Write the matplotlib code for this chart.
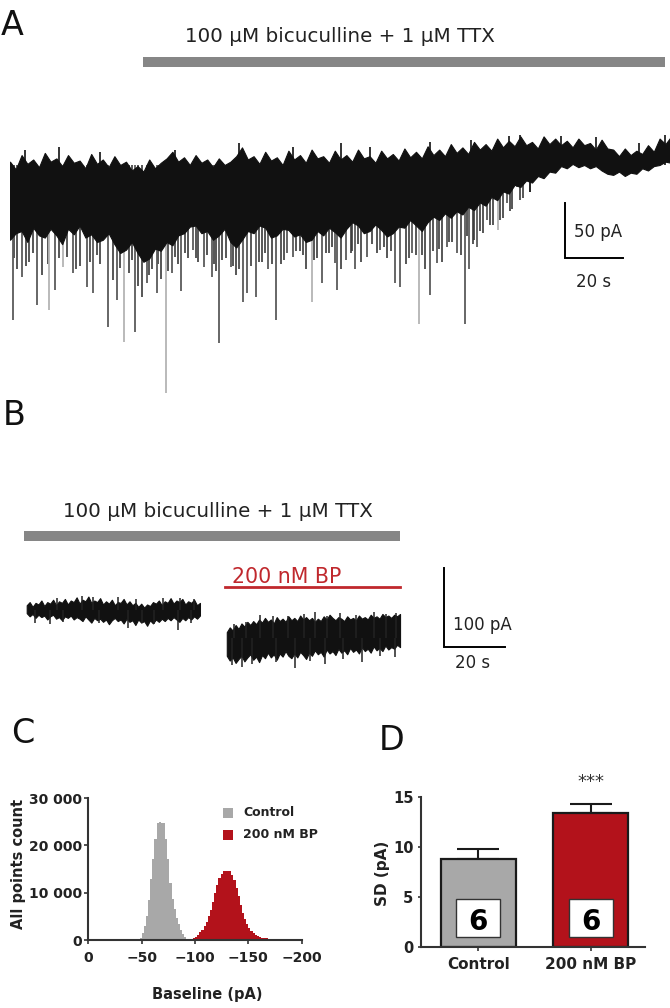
import numpy as np
import matplotlib
matplotlib.use("Agg")
import matplotlib.pyplot as plt
from matplotlib.patches import Rectangle

plt.rcParams['font.family'] = ['DejaVu Sans']

# ---------------- panel A: whole-cell trace (pA vs s)
a_step = 2.0                     # s between envelope samples
a_top = [3, -4, 9, 1, 5, -2, 11, 3, 6, -1, 9, 2, 4, -3, 10, 1, 5, -2, 8, 0,
         3, -5, -1, -6, 5, -3, 2, 6, 12, 3, 7, 0, 9, 2, 5, -2, 6, 0, 3, 8,
         16, 5, 8, 1, 12, 4, 7, 0, 13, 5, 9, 2, 14, 6, 8, 2, 13, 5, 9, 3,
         14, 6, 8, 2, 13, 6, 10, 4, 15, 7, 12, 6, 17, 9, 14, 8, 19, 11, 16, 10,
         21, 14, 19, 13, 24, 16, 22, 17, 26, 18, 21, 15, 26, 19, 24, 18, 22, 16, 24, 18,
         20, 14, 23, 15, 14, 8, 15, 9, 13, 10, 18, 12, 24, 19, 26]
a_core = [-68, -62, -60, -70, -57, -64, -66, -58, -64, -72, -58, -63, -55, -66, -63, -70,
          -68, -62, -72, -80, -77, -70, -80, -88, -85, -76, -78, -70, -73, -64, -62, -56,
          -55, -62, -60, -68, -64, -58, -70, -75, -68, -60, -62, -55, -57, -66, -64, -58,
          -59, -65, -63, -70, -68, -60, -64, -57, -61, -66, -58, -52, -55, -62, -60, -54,
          -59, -65, -62, -56, -57, -50, -55, -60, -52, -47, -50, -44, -48, -42, -45, -38,
          -41, -34, -37, -29, -32, -24, -26, -18, -20, -14, -16, -10, -12, -6, -7, -1,
          -3, 1, -2, 0, -3, -1, -5, -8, -9, -6, -10, -7, -8, -3, -5, -1, 0, 3, 2]
# small upward excursions on the top edge: time (s), peak (pA)
a_up_t = [5.2, 17, 31, 57, 79, 97.6, 114, 124, 145, 159, 172, 176, 190, 202, 217, 226]
a_up_amp = [14, 16, 12, 14, 20, 16, 20, 16, 21, 23, 26, 27, 26, 25, 20, 27]
# large inward events: time (s), peak (pA), shade (0 black, 1 dark grey, 2 light grey)
a_evt_t = [0.9, 4.0, 9.2, 13.4, 15.5, 18.3, 21.6, 26.6, 28.6, 33.8, 36.9, 39.3, 43.1,
           47.2, 50.7, 53.8, 55.9, 59.0, 63.1, 66.9, 69.7, 72.1, 76.2, 80.3, 81.7, 84.8,
           89.0, 91.7, 95.5, 97.6, 104.1, 107.6, 112.1, 112.8, 115.9, 119.0, 123.1, 127.6,
           132.8, 134.5, 138.6, 141.0, 144.8, 147.2, 150.7, 154.1, 156.9, 158.3, 161.0,
           164.5, 168.3, 171.4, 174.8, 179.3]
a_evt_amp = [-141, -102, -127, -132, -114, -93, -98, -111, -116, -147, -123, -161, -152,
             -107, -116, -207, -98, -115, -77, -93, -102, -162, -93, -125, -116, -120,
             -95, -141, -80, -84, -125, -107, -89, -114, -86, -95, -84, -77,
             -107, -111, -80, -145, -118, -89, -75, -80, -145, -95, -75,
             -50, -59, -35, -20, -25]
a_evt_shade = [1, 1, 1, 2, 1, 2, 1, 1, 1, 1, 1, 2, 1,
               1, 1, 2, 1, 1, 1, 1, 1, 1, 1, 1, 1, 1,
               1, 1, 1, 1, 2, 1, 1, 1, 1, 1, 1, 1,
               1, 1, 1, 2, 1, 1, 1, 1, 1, 1, 1,
               1, 2, 1, 1, 0]
# smaller events filling the dark part of the band
a_small_t = [2.5, 6.5, 11, 17, 24, 31, 35.5, 41, 45.5, 49, 52, 58, 61.5, 65, 71, 74.5, 78,
             83, 87, 93.5, 100, 102, 106, 110, 114, 117.5, 121, 125, 130, 136.5, 140, 143,
             146, 149, 152.5, 155.5, 160, 163, 166.5, 170, 173, 177,
             1.5, 5.5, 8, 13, 19.5, 22.8, 27.5, 30, 37.8, 42, 44.3, 48, 51, 54.5, 57, 60.5,
             64, 68, 70.5, 73.2, 77, 79, 85.8, 88, 90.5, 94.5, 98.5, 101, 105, 109, 111,
             118, 120, 126.5, 129, 131.5, 137.5, 142, 148, 151.5, 157.5, 159.5, 162, 165.5,
             169, 172.3, 175.8]
a_small_amp = [-95, -88, -100, -85, -92, -90, -105, -98, -120, -95, -104, -90, -85, -88,
               -96, -85, -100, -92, -88, -90, -78, -95, -85, -80, -95, -80, -88, -72, -85,
               -90, -82, -95, -78, -88, -70, -82, -68, -62, -55, -48, -40, -30,
               -85, -92, -80, -90, -84, -95, -88, -82, -94, -86, -110, -100, -90, -96, -84,
               -80, -85, -82, -90, -86, -92, -95, -88, -80, -90, -86, -78, -82, -86, -80,
               -75, -78, -72, -80, -75, -78, -85, -82, -76, -70, -65, -72, -60, -55, -50,
               -42, -32]

# ---------------- panel B: two trace segments (pA vs s)
b1_start, b1_end = 2.2, 59.0
b1_top = [6, 10, 4, 9, 7, 12, 5, 10, 8, 13, 6, 11, 9, 14, 7, 12, 10, 16, 8, 13,
          11, 17, 9, 12, 10, 15, 7, 11, 8, 13, 6, 10, 9, 14, 7, 11, 6, 9, 4, 8,
          3, 7, 5, 10, 8, 12, 6, 11, 9, 15, 8, 12, 10, 14, 7, 11, 9, 13, 6, 9]
b1_bot = [-4, -8, -5, -10, -6, -9, -7, -12, -8, -6, -11, -9, -13, -8, -10, -7, -12, -9,
          -11, -14, -8, -12, -16, -10, -13, -11, -15, -12, -18, -13, -10, -14, -12, -17,
          -11, -15, -13, -19, -12, -16, -14, -20, -13, -17, -12, -15, -11, -14, -10, -13,
          -9, -12, -15, -10, -13, -9, -12, -8, -11, -7]
b1_evt_t = [5, 9.8, 14, 26, 35.4, 40, 44, 51.8, 56, 12, 20.3, 24, 32, 38, 47, 52.5, 57]
b1_evt_amp = [-16, -18, -15, -16, -23, -17, -18, -25, -17, 15, 18, 16, 17, 14, 15, 15, 14]
b2_start, b2_end = 67.8, 124.6
b2_top = [-28, -22, -26, -19, -24, -17, -21, -15, -19, -14, -18, -12, -16, -10, -15, -12,
          -17, -9, -14, -11, -15, -8, -13, -10, -14, -7, -12, -9, -13, -10, -15, -11, -14,
          -8, -12, -6, -10, -13, -9, -11, -14, -8, -12, -10, -13, -7, -11, -9, -12, -6,
          -10, -8, -11, -5, -9, -7, -10, -6, -8, -5]
b2_bot = [-58, -64, -60, -67, -62, -58, -65, -60, -56, -63, -59, -66, -57, -61, -54, -60,
          -56, -63, -55, -59, -52, -58, -61, -55, -60, -53, -57, -62, -54, -58, -51, -56,
          -53, -59, -50, -55, -52, -57, -49, -54, -51, -56, -48, -53, -50, -55, -47, -52,
          -49, -54, -46, -51, -48, -52, -45, -50, -47, -49, -44, -47]
b2_evt_t = [69.4, 72.7, 76, 84, 90.2, 95, 100, 106, 112, 118, 123,
            70, 74, 78.7, 83, 88, 93, 96.7, 100.5, 105, 110, 116, 120, 123.4]
b2_evt_amp = [-70, -72, -68, -66, -73, -65, -68, -62, -66, -58, -60,
              -18, -15, -6, -8, -7, -5, -2, -8, -4, -6, -3, -5, -4]

# ---------------- panel C: all-points histograms (2 pA bins)
bin_w = 2.0
ctrl_first_edge = -46.0
ctrl_counts = [200, 500, 1500, 2900, 5000, 8500, 12800, 17100, 21300, 24800, 24900, 24800,
               24700, 21300, 17100, 12100, 8600, 6500, 4700, 3400, 2200, 1300, 600, 150]
bp_first_edge = -92.0
bp_counts = [80, 150, 250, 400, 700, 1100, 1600, 2200, 3000, 3900, 5000, 6400, 8000, 9900,
             11600, 13000, 14000, 14500, 14600, 14600, 14500, 13800, 12600, 11000, 9300,
             7500, 5800, 4400, 3400, 2600, 1900, 1400, 1000, 800, 600, 450, 380, 330, 300,
             280, 250, 220, 200, 180, 160, 140, 100]

# ---------------- panel D: baseline SD
groups = ['Control', '200 nM BP']
sd_mean = [8.8, 13.4]
sd_sem = [1.0, 0.95]
n_cells = [6, 6]

grey = '#a8a8a8'
red = '#b3121b'
bp_red = '#c0282d'
bar_grey = '#868686'
trace = '#111111'
shades = ['#111111', '#5a5a5a', '#b4b4b4']

W, H = 670, 1008
fig = plt.figure(figsize=(W / 100, H / 100), dpi=100)


def box(x0, y0, x1, y1):
    # pixel box (top-left origin) -> figure fraction rect
    return [x0 / W, 1 - y1 / H, (x1 - x0) / W, (y1 - y0) / H]


# ---- A
axa = fig.add_axes(box(10, 20, 671.2, 401.5))
axa.set_xlim(0, 228)
axa.set_ylim(-215, 131.8)
axa.axis('off')
ta = np.arange(len(a_top)) * a_step
axa.vlines(a_small_t, 0, a_small_amp, color='#3a3a3a', lw=1.2, zorder=1)
axa.vlines(a_evt_t, 0, a_evt_amp, color=[shades[s] for s in a_evt_shade], lw=1.3, zorder=1)
axa.vlines(a_up_t, 0, a_up_amp, color=trace, lw=1.2, zorder=1)
axa.fill_between(ta, a_core, a_top, color=trace, lw=0.8, zorder=2)
axa.plot([45.9, 225.9], [93.6, 93.6], color=bar_grey, lw=7.2, solid_capstyle='butt')
axa.text(113.8, 111.8, '100 µM bicuculline + 1 µM TTX', fontsize=14.3, color='#222222',
         ha='center', va='baseline')
axa.plot([191.4, 191.4, 211.4], [-34.5, -84.5, -84.5], color='k', lw=1.4,
         solid_joinstyle='miter')
axa.text(194.5, -65.2, '50 pA', fontsize=12, ha='left', va='baseline', color='#222222')
axa.text(201.4, -110.6, '20 s', fontsize=12, ha='center', va='baseline', color='#222222')

# ---- B
axb = fig.add_axes(box(20, 500, 520, 680))
axb.set_xlim(0, 163.93)
axb.set_ylim(-88.6, 139.2)
axb.axis('off')
tb1 = np.linspace(b1_start, b1_end, len(b1_top))
tb2 = np.linspace(b2_start, b2_end, len(b2_top))
axb.vlines(b1_evt_t, 0, b1_evt_amp, color='#222222', lw=1.1)
axb.vlines(b2_evt_t, -35, b2_evt_amp, color='#222222', lw=1.1)
axb.fill_between(tb1, b1_bot, b1_top, color=trace, lw=0.8)
axb.fill_between(tb2, b2_bot, b2_top, color=trace, lw=0.8)
axb.plot([1.3, b2_end], [93.7, 93.7], color=bar_grey, lw=7.2, solid_capstyle='butt')
axb.text(64.9, 117.7, '100 µM bicuculline + 1 µM TTX', fontsize=14.3, color='#222222',
         ha='center', va='baseline')
axb.plot([b2_start - 0.6, b2_end], [29.5, 29.5], color=bp_red, lw=2)
axb.text(87.5, 34.2, '200 nM BP', fontsize=14.8, color=bp_red, ha='center', va='baseline')
axb.plot([139, 139, 159], [53.2, -46.8, -46.8], color='k', lw=1.4, solid_joinstyle='miter')
axb.text(142, -25.3, '100 pA', fontsize=12, ha='left', va='baseline', color='#222222')
axb.text(148.4, -73.4, '20 s', fontsize=12, ha='center', va='baseline', color='#222222')

# ---- C
axc = fig.add_axes(box(88.3, 798, 301.7, 940))
ctrl_edges = ctrl_first_edge - bin_w * np.arange(len(ctrl_counts) + 1)
bp_edges = bp_first_edge - bin_w * np.arange(len(bp_counts) + 1)
axc.stairs(bp_counts[::-1], bp_edges[::-1], fill=True, color=red, lw=0)
axc.stairs(ctrl_counts[::-1], ctrl_edges[::-1], fill=True, color=grey, lw=0)
axc.set_xlim(0, -200)
axc.set_ylim(0, 30000)
axc.set_xticks([0, -50, -100, -150, -200])
axc.set_yticks([0, 10000, 20000, 30000], ['0', '10 000', '20 000', '30 000'])
for s in ['top', 'right']:
    axc.spines[s].set_visible(False)
for s in ['left', 'bottom']:
    axc.spines[s].set_linewidth(1.5)
    axc.spines[s].set_color('#333333')
axc.tick_params(axis='both', length=2.6, width=1.2, color='#333333', labelsize=10,
                labelcolor='#222222')
axc.tick_params(axis='x', pad=5.6)
axc.tick_params(axis='y', pad=2.2)
for lab in axc.get_xticklabels() + axc.get_yticklabels():
    lab.set_fontweight('bold')

# ---- D
axd = fig.add_axes(box(420.7, 797.3, 645, 946.7))
xpos = np.arange(len(groups))
axd.bar(xpos, sd_mean, width=0.667, color=[grey, red], edgecolor='#1a1a1a', lw=1.6,
        zorder=2)
axd.errorbar(xpos, sd_mean, yerr=[[0, 0], sd_sem], fmt='none', ecolor='#1a1a1a',
             elinewidth=1.5, capsize=15, capthick=1.5, zorder=1)
for x, n in zip(xpos, n_cells):
    axd.add_patch(Rectangle((x - 0.195, 1.0), 0.39, 3.75, facecolor='white',
                            edgecolor='#333333', lw=1, zorder=3))
    axd.text(x, 1.68, str(n), fontsize=20, fontweight='bold', ha='center', va='baseline',
             zorder=4)
axd.text(1, 16.0, '***', fontsize=13, color='#333333', ha='center', va='baseline',
         clip_on=False)
axd.set_xlim(-0.513, 1.481)
axd.set_ylim(0, 15)
axd.set_yticks([0, 5, 10, 15])
axd.set_xticks(xpos, groups)
for s in ['top', 'right']:
    axd.spines[s].set_visible(False)
for s in ['left', 'bottom']:
    axd.spines[s].set_linewidth(1.5)
    axd.spines[s].set_color('#333333')
axd.tick_params(axis='both', width=1.2, color='#333333', labelcolor='#222222')
axd.tick_params(axis='y', length=2.4, pad=2.9, labelsize=10.5)
axd.tick_params(axis='x', length=3, pad=4.3, labelsize=11)
for lab in axd.get_xticklabels() + axd.get_yticklabels():
    lab.set_fontweight('bold')

# ---- overlay: panel letters, axis titles, legend of C
ov = fig.add_axes([0, 0, 1, 1])
ov.set_xlim(0, W)
ov.set_ylim(H, 0)
ov.axis('off')
for letter, x, y in [('A', 1, 35), ('B', 3, 425), ('C', 11, 743), ('D', 379, 750)]:
    ov.text(x, y, letter, fontsize=24, ha='left', va='baseline', color='#111111')
ov.text(18.5, 863.5, 'All points count', rotation=90, fontsize=10.5, fontweight='bold',
        ha='center', va='center', color='#222222')
ov.text(207, 995, 'Baseline (pA)', fontsize=10.5, fontweight='bold', ha='center',
        va='center', color='#222222')
ov.text(382, 873, 'SD (pA)', rotation=90, fontsize=11, fontweight='bold', ha='center',
        va='center', color='#222222')
ov.add_patch(Rectangle((223, 808), 10, 10, color=grey, lw=0))
ov.add_patch(Rectangle((223, 830), 10, 10, color=red, lw=0))
ov.text(243, 813, 'Control', fontsize=9, fontweight='bold', ha='left', va='center',
        color='#222222')
ov.text(243, 835, '200 nM BP', fontsize=9, fontweight='bold', ha='left', va='center',
        color='#222222')

fig.savefig('out.png', dpi=100)
